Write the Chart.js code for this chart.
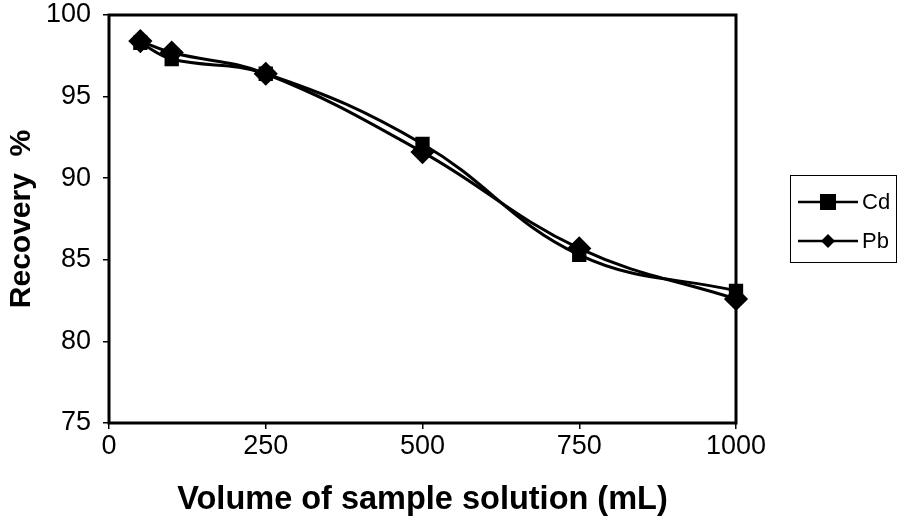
<!DOCTYPE html>
<html>
<head>
<meta charset="utf-8">
<script src="https://cdn.jsdelivr.net/npm/chart.js@4"></script>
<style>
  html, body { margin: 0; padding: 0; background: #fff; }
  #wrap { position: relative; width: 904px; height: 520px; }
  #legendBox {
    position: absolute; left: 790px; top: 175px; width: 107px; height: 88px;
    border: 1.5px solid #000; box-sizing: border-box;
    font-family: "Liberation Sans", Arial, sans-serif; font-size: 22px;
  }
  .item { position: absolute; left: 7px; display: flex; align-items: center; }
  .item span { margin-left: 4px; }
</style>
</head>
<body>
<div id="wrap">
  <canvas id="recoveryChart" width="904" height="520"></canvas>
  <div id="legendBox">
    <div class="item" style="top:13px">
      <svg width="60" height="18"><line x1="0" y1="9" x2="60" y2="9" stroke="#000" stroke-width="2.5"/><rect x="22" y="1" width="16" height="16" fill="#000"/></svg>
      <span>Cd</span>
    </div>
    <div class="item" style="top:52px">
      <svg width="60" height="18"><line x1="0" y1="9" x2="60" y2="9" stroke="#000" stroke-width="2.5"/><polygon points="30,2 37,9 30,16 23,9" fill="#000"/></svg>
      <span>Pb</span>
    </div>
  </div>
</div>
<script>
// Recovery vs sample volume
const volumes = [50, 100, 250, 500, 750, 1000];
const cdRecovery = [98.3, 97.3, 96.4, 92.1, 85.3, 83.1];
const pbRecovery = [98.4, 97.7, 96.4, 91.6, 85.7, 82.6];
const xTicks = [0, 250, 500, 750, 1000];

const fontFamily = '"Liberation Sans", Arial, sans-serif';

// thick frame around the plot area
const frame = {
  id: 'frame',
  beforeDatasetsDraw(chart) {
    const a = chart.chartArea;
    const c = chart.ctx;
    c.save();
    c.strokeStyle = '#000';
    c.lineWidth = 3;
    c.strokeRect(a.left, a.top, a.right - a.left, a.bottom - a.top);
    c.restore();
  }
};

const ctx = document.getElementById('recoveryChart').getContext('2d');
new Chart(ctx, {
  type: 'line',
  data: {
    datasets: [
      {
        label: 'Cd',
        data: volumes.map((v, i) => ({ x: v, y: cdRecovery[i] })),
        borderColor: '#000',
        backgroundColor: '#000',
        borderWidth: 3,
        pointStyle: 'rect',
        pointRadius: 8,
        tension: 0.4,
        clip: false
      },
      {
        label: 'Pb',
        data: volumes.map((v, i) => ({ x: v, y: pbRecovery[i] })),
        borderColor: '#000',
        backgroundColor: '#000',
        borderWidth: 3,
        pointStyle: 'rectRot',
        pointRadius: 10,
        tension: 0.4,
        clip: false
      }
    ]
  },
  options: {
    responsive: false,
    animation: false,
    layout: { padding: { left: 0, right: 168, top: 15, bottom: 0 } },
    plugins: {
      legend: { display: false },
      tooltip: { enabled: false }
    },
    scales: {
      x: {
        type: 'linear',
        min: 0,
        max: 1000,
        afterBuildTicks: (s) => { s.ticks = xTicks.map(v => ({ value: v })); },
        afterFit: (s) => { s.height = 97; s.paddingLeft = 0; s.paddingRight = 0; },
        grid: { drawOnChartArea: false, color: '#000', tickLength: 6, lineWidth: 1.5 },
        border: { display: false },
        ticks: {
          color: '#000', font: { family: fontFamily, size: 27 }, padding: 1, maxRotation: 0,
          callback: (v) => String(v)
        },
        title: {
          display: true,
          text: 'Volume of sample solution (mL)',
          color: '#000',
          font: { family: fontFamily, size: 32.5, weight: 'bold' },
          padding: { top: 22, bottom: 0 }
        }
      },
      y: {
        min: 75,
        max: 100,
        afterFit: (s) => { s.width = 109; s.paddingTop = 0; s.paddingBottom = 0; },
        grid: { drawOnChartArea: false, color: '#000', tickLength: 6, lineWidth: 1.5 },
        border: { display: false },
        ticks: { stepSize: 5, color: '#000', font: { family: fontFamily, size: 27 }, padding: 12 },
        title: {
          display: true,
          text: 'Recovery  %',
          color: '#000',
          font: { family: fontFamily, size: 30, weight: 'bold' },
          padding: { bottom: 0 }
        }
      }
    }
  },
  plugins: [frame]
});
</script>
</body>
</html>
